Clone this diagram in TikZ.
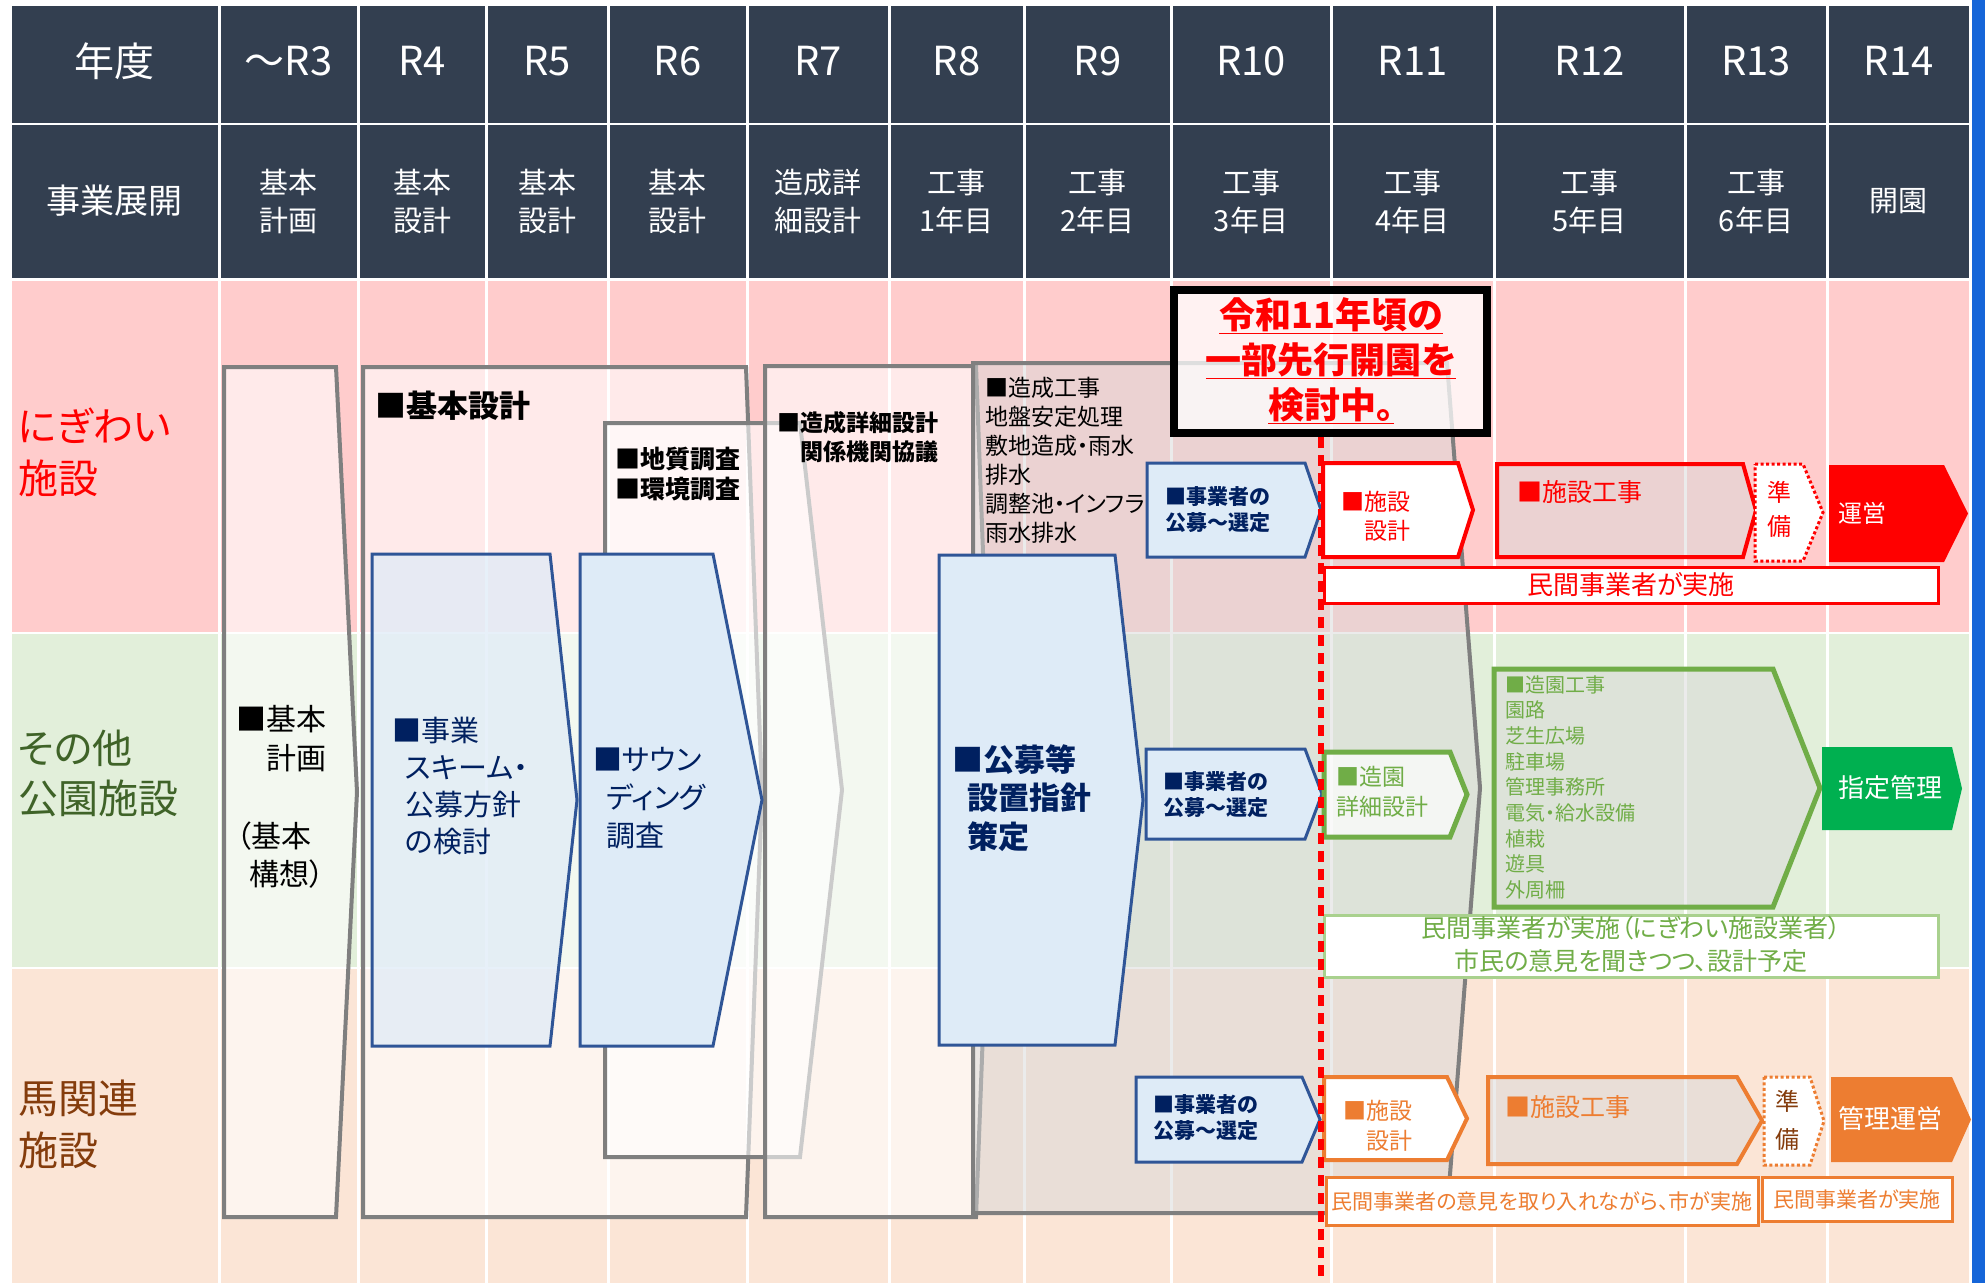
\documentclass[tikz,border=0pt]{standalone}
\usepackage{fontspec}
\setmainfont{Noto Sans CJK JP}[RawFeature=+palt]
\usetikzlibrary{positioning}

\definecolor{hdr}{HTML}{333F50}
\definecolor{bandA}{HTML}{FFCCCC}
\definecolor{bandB}{HTML}{E2EFDA}
\definecolor{bandC}{HTML}{FBE5D6}
\definecolor{gline}{HTML}{7F7F7F}
\definecolor{shade}{HTML}{D9D9D9}
\definecolor{navy}{HTML}{2F5597}
\definecolor{navytxt}{HTML}{002060}
\definecolor{pale}{HTML}{DEEBF7}
\definecolor{grn}{HTML}{70AD47}
\definecolor{grnfill}{HTML}{00B050}
\definecolor{grnlite}{HTML}{A9D18E}
\definecolor{org}{HTML}{ED7D31}
\definecolor{sonotaC}{HTML}{3F6328}
\definecolor{umaC}{HTML}{843C0C}
\definecolor{edge}{HTML}{1565D8}

\newcommand{\fsz}[2]{\fontsize{#1}{#2}\selectfont}
\newcommand{\pent}[6][]{\draw[#1] (#2,#3) -- (#4,#3) -- (#5,{(#3+#6)/2}) -- (#4,#6) -- (#2,#6) -- cycle;}

\begin{document}
\begin{tikzpicture}[x=1pt,y=-1pt,
    gbox/.style={draw=gline,line width=4,fill=white,fill opacity=.6},
    gshade/.style={draw=gline,line width=4,fill=shade,fill opacity=.5},
    bbox/.style={draw=navy,line width=3,fill=pale},
    rowbox/.style={draw=#1,line width=4,fill=white},
    rowshade/.style={draw=#1,line width=4,fill=shade,fill opacity=.5},
    rowdot/.style={draw=#1,line width=3,dash pattern=on 3pt off 2.5pt,fill=white},
    rowfill/.style={draw=none,fill=#1},
    notebox/.style={draw=#1,line width=3,fill=white},
    txt/.style={inner sep=0pt,align=left,anchor=north west},
    ctxt/.style={inner sep=0pt,align=center},
    cutline/.style={draw=red,line width=6,dash pattern=on 11pt off 7pt}]

    \useasboundingbox (0,0) rectangle (1985,1283);
    \fill[white] (0,0) rectangle (1985,1283);
    % blue edge
    \fill[edge] (1972,0) rectangle (1985,1283);

    % table cells
    \foreach \xa/\xb in {10/219,219/358,358/486,486/608,608/747,747/889,889/1024,1024/1171,1171/1331,1331/1494,1494/1685,1685/1827,1827/1970}
    {
        \fill[hdr] ({\xa+1.5},6) rectangle ({\xb-1.5},123);
        \fill[hdr] ({\xa+1.5},125) rectangle ({\xb-1.5},278);
        \fill[bandA] ({\xa+1.5},281) rectangle ({\xb-1.5},632);
        \fill[bandB] ({\xa+1.5},634) rectangle ({\xb-1.5},967);
        \fill[bandC] ({\xa+1.5},969) rectangle ({\xb-1.5},1283);
    }

    % headings
    \node[ctxt,text=white,font=\fsz{40}{48}] (nendo) at (114.5,61) {年度};
    \node[ctxt,text=white,font=\fsz{34}{40}] (tenkai) at (114.5,201) {事業展開};
    \foreach \xa/\xb/\yr/\plan [count=\i] in {219/358/～R3/基本\\計画,358/486/R4/基本\\設計,486/608/R5/基本\\設計,608/747/R6/基本\\設計,747/889/R7/造成詳\\細設計,889/1024/R8/工事\\1年目,1024/1171/R9/工事\\2年目,1171/1331/R10/工事\\3年目,1331/1494/R11/工事\\4年目,1494/1685/R12/工事\\5年目,1685/1827/R13/工事\\6年目,1827/1970/R14/開園}
    {
        \node[ctxt,text=white,font=\fsz{40}{48}] (yr\i) at ({(\xa+\xb)/2},61) {\yr};
        \node[ctxt,text=white,font=\fsz{29}{38}] (plan\i) at ({(\xa+\xb)/2},201) {\plan};
    }

    % row labels
    \node[txt,text=red,font=\fsz{40}{52}] (nigiwai) at (18,408) {にぎわい\\施設};
    \node[txt,text=sonotaC,font=\fsz{40}{50}] (sonota) at (18,730) {その他\\公園施設};
    \node[txt,text=umaC,font=\fsz{40}{52}] (uma) at (18,1080) {馬関連\\施設};

    % planning and design stages
    \pent[gbox]{224}{367}{336}{357}{1217}
    \pent[gbox]{363}{367}{746}{762}{1217}
    \pent[gbox]{605}{423}{800}{842}{1157}
    \pent[gbox]{765}{366}{976}{992}{1217}
    \pent[gshade]{973}{363}{1447}{1480}{1213}

    % callout
    \draw[line width=8,fill=white,fill opacity=.75] (1174,290) rectangle (1487,433);

    % blue stages
    \pent[bbox,fill opacity=.7]{372}{554}{550}{577}{1046}
    \pent[bbox]{580}{554}{713}{762}{1046}
    \pent[bbox]{939}{555}{1115}{1143}{1045}
    \pent[bbox]{1147}{463}{1305}{1321}{557}
    \pent[bbox]{1146}{749}{1305}{1322}{839}
    \pent[bbox]{1136}{1077}{1302}{1320}{1162}

    % nigiwai row
    \pent[rowbox=red]{1323}{463}{1458}{1473}{557}
    \pent[rowshade=red]{1497}{464}{1743}{1756}{557}
    \pent[rowdot=red]{1755}{464}{1803}{1823}{561}
    \pent[rowfill=red]{1829}{465}{1944}{1968}{562}
    \draw[notebox=red] (1324,567) rectangle (1938,603);

    % park row
    \pent[rowbox=grn,line width=5,fill opacity=.7]{1324}{752}{1450}{1467}{837}
    \pent[rowshade=grn,line width=5]{1494}{669}{1773}{1820}{907}
    \pent[rowfill=grnfill]{1822}{747}{1952}{1962}{830}
    \draw[notebox=grnlite] (1324,915) rectangle (1938,977);

    % horse row
    \pent[rowbox=org]{1324}{1077}{1447}{1467}{1160}
    \pent[rowshade=org]{1488}{1077}{1737}{1762}{1164}
    \pent[rowdot=org]{1764}{1077}{1810}{1824}{1165}
    \pent[rowfill=org]{1831}{1077}{1952}{1971}{1162}
    \draw[notebox=org] (1326,1177) rectangle (1758,1225);
    \draw[notebox=org] (1762,1177) rectangle (1952,1221);

    % R11 line
    \coordinate (cutA) at (1321,437);
    \coordinate (cutB) at (1321,1283);
    \draw[cutline] (cutA) -- (cutB);

    % texts
    \node[txt,font=\fsz{30}{39}] (keikaku) at (236,705) {■基本\\　計画};
    \node[txt,font=\fsz{30}{38}] (kousou) at (236,822) {（基本\\\hspace*{13pt}構想）};
    \node[txt,font=\bfseries\fsz{31}{38}] (kihon) at (375,391) {■基本設計};
    \node[txt,font=\bfseries\fsz{25}{30}] (chishitsu) at (615,447) {■地質調査\\■環境調査};
    \node[txt,font=\bfseries\fsz{23}{29}] (shousai) at (777,411) {■造成詳細設計\\　関係機関協議};
    \node[txt,font=\fsz{23}{29}] (zousei) at (985,377) {■造成工事\\地盤安定処理\\敷地造成・雨水\\排水\\調整池・インフラ\\雨水排水};
    \node[ctxt,anchor=north,text=red,font=\bfseries\fsz{36}{45}] (kentou) at (1331,297) {\underline{令和11年頃の}\\\underline{一部先行開園を}\\\underline{検討中。}};

    \node[txt,text=navytxt,font=\fsz{29}{37}] (scheme) at (392,717) {■事業\\\hspace*{13pt}スキーム・\\\hspace*{13pt}公募方針\\\hspace*{13pt}の検討};
    \node[txt,text=navytxt,font=\fsz{29}{38}] (sounding) at (593,747) {■サウン\\\hspace*{13pt}ディング\\\hspace*{13pt}調査};
    \node[txt,text=navytxt,font=\bfseries\fsz{31}{38.5}] (shishin) at (952,744) {■公募等\\\hspace*{15pt}設置指針\\\hspace*{15pt}策定};
    \node[txt,text=navytxt,font=\bfseries\fsz{21}{26}] (boshuA) at (1165,486) {■事業者の\\公募～選定};
    \node[txt,text=navytxt,font=\bfseries\fsz{21}{26}] (boshuB) at (1163,771) {■事業者の\\公募～選定};
    \node[txt,text=navytxt,font=\bfseries\fsz{21}{26}] (boshuC) at (1153,1094) {■事業者の\\公募～選定};

    \node[txt,text=red,font=\fsz{23}{29}] (sekkeiA) at (1341,491) {■施設\\　設計};
    \node[txt,text=red,font=\fsz{25}{30}] (koujiA) at (1517,480) {■施設工事};
    \node[txt,text=red,font=\fsz{24}{34}] (junbiA) at (1767,481) {準\\備};
    \node[ctxt,text=white,font=\fsz{24}{30}] (unei) at (1862,513) {運営};
    \node[ctxt,text=red,font=\fsz{26}{30}] (minkanA) at (1631,585) {民間事業者が実施};

    \node[txt,text=grn,font=\fsz{23}{30}] (sekkeiB) at (1336,766) {■造園\\詳細設計};
    \node[txt,text=grn,font=\fsz{20}{25.7}] (kouen) at (1505,675) {■造園工事\\園路\\芝生広場\\駐車場\\管理事務所\\電気・給水設備\\植栽\\遊具\\外周柵};
    \node[ctxt,text=white,font=\fsz{26}{30}] (shitei) at (1890,788) {指定管理};
    \node[ctxt,anchor=north,text=grn,font=\fsz{25}{33}] (minkanB) at (1631,916) {民間事業者が実施（にぎわい施設業者）\\市民の意見を聞きつつ、設計予定};

    \node[txt,text=org,font=\fsz{23}{30}] (sekkeiC) at (1343,1100) {■施設\\　設計};
    \node[txt,text=org,font=\fsz{25}{30}] (koujiC) at (1505,1095) {■施設工事};
    \node[txt,text=umaC,font=\fsz{24}{38}] (junbiC) at (1775,1090) {準\\備};
    \node[ctxt,text=white,font=\fsz{26}{30}] (kanri) at (1890,1119) {管理運営};
    \node[ctxt,text=org,font=\fsz{21}{26}] (minkanC) at (1542,1201) {民間事業者の意見を取り入れながら、市が実施};
    \node[ctxt,text=org,font=\fsz{21}{26}] (minkanD) at (1857,1199) {民間事業者が実施};
\end{tikzpicture}
\end{document}
